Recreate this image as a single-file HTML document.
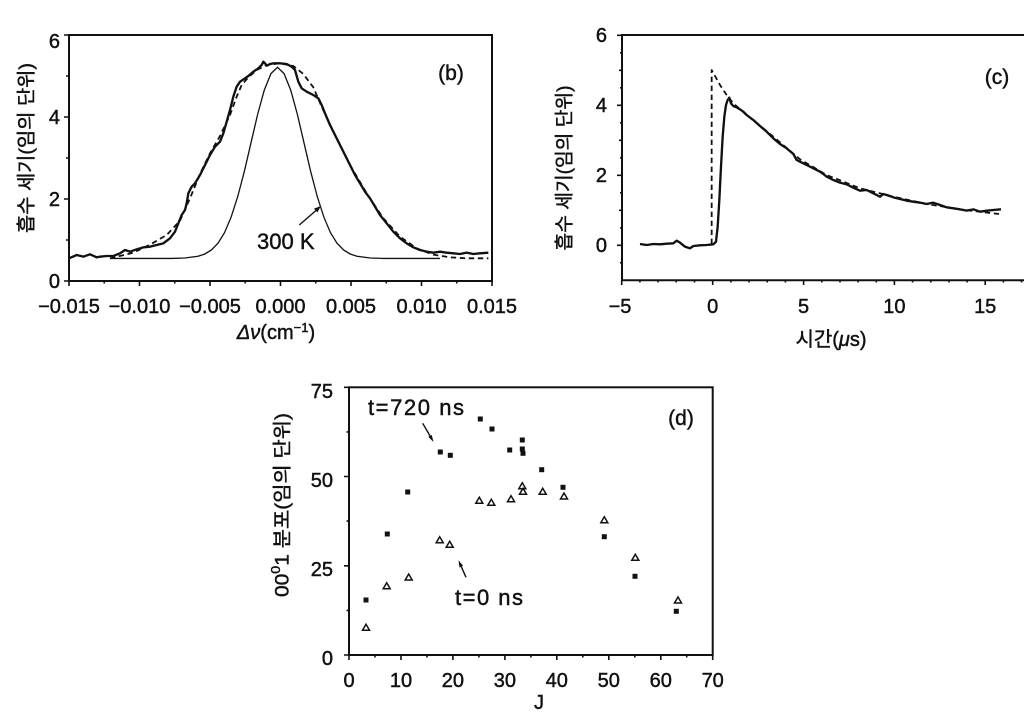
<!DOCTYPE html>
<html><head><meta charset="utf-8"><style>html,body{margin:0;padding:0;background:#fff;}svg{display:block}</style></head>
<body>
<svg width="1024" height="725" viewBox="0 0 1024 725" xmlns="http://www.w3.org/2000/svg" font-family="'Liberation Sans','Noto Sans CJK KR',sans-serif" fill="#111">
<rect width="1024" height="725" fill="#fff"/>

<!-- ============ Panel (b) ============ -->
<rect x="69" y="35" width="423" height="246" fill="none" stroke="#111" stroke-width="2"/>
<g stroke="#111" stroke-width="1.6">
  <path d="M64,35H69M64,117H69M64,199H69M64,281H69"/>
  <path d="M66,76H69M66,158H69M66,240H69"/>
  <path d="M69,281V286M139.5,281V286M210,281V286M280.5,281V286M351,281V286M421.5,281V286M492,281V286"/>
  <path d="M104.25,281V283.5M174.75,281V283.5M245.25,281V283.5M315.75,281V283.5M386.25,281V283.5M456.75,281V283.5"/>
</g>
<g stroke="#111" stroke-width="0.45">
<g font-size="20" text-anchor="end">
  <text x="60" y="48">6</text>
  <text x="60" y="124">4</text>
  <text x="60" y="206">2</text>
  <text x="60" y="288">0</text>
</g>
<g font-size="20" text-anchor="middle">
  <text x="69" y="313">−0.015</text>
  <text x="139.5" y="313">−0.010</text>
  <text x="210" y="313">−0.005</text>
  <text x="280.5" y="313">0.000</text>
  <text x="351" y="313">0.005</text>
  <text x="421.5" y="313">0.010</text>
  <text x="492" y="313">0.015</text>
</g>
<text x="276" y="339" font-size="20" text-anchor="middle"><tspan font-style="italic">Δν</tspan>(cm<tspan font-size="13" baseline-shift="super">−1</tspan>)</text>
<text transform="translate(27,148) rotate(-90)" text-anchor="middle" dominant-baseline="central" font-size="19" textLength="170" lengthAdjust="spacingAndGlyphs">흡수 세기(임의 단위)</text>
<text x="451" y="80" font-size="21" text-anchor="middle">(b)</text>
<text x="257" y="249" font-size="22">300 K</text>
</g>
<line x1="299.3" y1="225" x2="316" y2="210.5" stroke="#111" stroke-width="1.4"/>
<polygon points="321,206 317.3,212.4 314,208.6" fill="#111"/>

<!-- thin gaussian -->
<path fill="none" stroke="#111" stroke-width="1.3" d="M110,258.45 L171.5,258.45 L184.75,258 L198,256.3 L204.6,254.1 L211.25,250.1 L217.9,243.3 L224.5,232.7 L231.1,217.2 L237.75,196.5 L244.4,171.2 L251,142.8 L257.6,114.5 L264.25,90.2 L270.9,73.6 L277.5,67.3 L284.1,73.6 L290.75,90.2 L297.4,114.5 L304,142.8 L310.6,171.2 L317.25,196.5 L323.9,217.2 L330.5,232.7 L337.1,243.3 L343.75,250.1 L350.4,254.1 L357,256.3 L370.25,258 L383.5,258.45 L440,258.45"/>

<g transform="translate(100,50) scale(0.333333)" fill="none" stroke="#111" stroke-linejoin="round">
  <path stroke-width="5.4" stroke-dasharray="16,11" d="M30,625 L100,608 L150,584 L200,555 L240,512 L270,445 L300,372 L330,310 L360,258 L390,195 L410,140 L425,105 L445,82 L470,60 L500,45 L540,40 L580,48 L610,72 L640,112 L665,170 L700,245 L750,345 L800,430 L850,505 L900,560 L950,595 L1000,614 L1050,622 L1100,625 L1165,625"/>
  <path stroke-width="7" d="M-93,625 L-70,615 L-50,620 L-30,613 L-10,622 L0,620 L20,618 L40,618 L60,610 L75,600 L90,605 L110,598 L130,592 L150,590 L170,585 L190,580 L210,565 L225,545 L235,520 L245,495 L255,480 L260,460 L265,430 L275,410 L285,400 L300,375 L315,345 L330,315 L345,290 L360,275 L370,250 L380,215 L390,180 L400,140 L410,110 L420,95 L435,85 L445,78 L460,65 L475,55 L485,45 L490,35 L495,40 L500,47 L510,42 L520,40 L540,40 L560,42 L575,50 L585,60 L595,95 L605,115 L620,125 L640,135 L655,145 L665,165 L675,190 L690,225 L705,255 L720,285 L735,315 L750,345 L765,375 L780,400 L795,425 L810,445 L825,470 L840,495 L860,520 L880,545 L900,565 L920,580 L940,592 L960,600 L980,605 L1000,608 L1020,605 L1040,608 L1060,610 L1080,612 L1100,608 L1120,612 L1140,610 L1165,608"/>
</g>

<!-- ============ Panel (c) ============ -->
<g stroke="#111" stroke-width="2" fill="none">
  <path d="M622,34V281"/>
  <path d="M621,35H1024"/>
  <path d="M621,280.3H1024"/>
</g>
<g stroke="#111" stroke-width="1.6">
  <path d="M617,35.3H622M617,105.3H622M617,175.3H622M617,245.3H622"/>
  <path d="M619,70.3H622M619,140.3H622M619,210.3H622"/>
  <path d="M620,52.8H622M620,87.8H622M620,122.8H622M620,157.8H622M620,192.8H622M620,227.8H622M620,262.8H622"/>
  <path d="M621.7,280V285M712.7,280V285M803.6,280V285M894.4,280V285M985.2,280V285"/>
  <path d="M639.9,280V282.5M658,280V282.5M676.2,280V282.5M694.5,280V282.5M730.9,280V282.5M749,280V282.5M767.2,280V282.5M785.4,280V282.5M821.8,280V282.5M840,280V282.5M858.1,280V282.5M876.3,280V282.5M912.6,280V282.5M930.8,280V282.5M949,280V282.5M967.1,280V282.5M1003.4,280V282.5M1021.5,280V282.5"/>
</g>
<g stroke="#111" stroke-width="0.45">
<g font-size="20" text-anchor="end">
  <text x="607" y="42">6</text>
  <text x="607" y="112">4</text>
  <text x="607" y="182">2</text>
  <text x="607" y="252">0</text>
</g>
<g font-size="20" text-anchor="middle">
  <text x="620" y="313">−5</text>
  <text x="712.7" y="313">0</text>
  <text x="803.6" y="313">5</text>
  <text x="894.4" y="313">10</text>
  <text x="985.2" y="313">15</text>
</g>
<text x="831" y="346" font-size="20" text-anchor="middle">시간(<tspan font-style="italic">μ</tspan>s)</text>
<text transform="translate(565,168) rotate(-90)" text-anchor="middle" dominant-baseline="central" font-size="19" textLength="165" lengthAdjust="spacingAndGlyphs">흡수 세기(임의 단위)</text>
<text x="997" y="84" font-size="21" text-anchor="middle">(c)</text>
</g>

<g transform="translate(540,20) scale(0.333333)" fill="none" stroke="#111" stroke-linejoin="round">
  <path stroke-width="5.4" stroke-dasharray="16,11" d="M515,672 L515,150 L540,195 L560,225 L580,250 L620,285 L700,350 L780,418 L860,465 L960,505 L1060,530 L1160,552 L1260,568 L1385,583"/>
  <path stroke-width="7" d="M300,672 L320,675 L340,672 L360,673 L380,671 L400,670 L410,662 L420,668 L435,680 L450,685 L460,678 L480,676 L500,675 L520,673 L528,665 L533,620 L538,540 L543,440 L548,350 L553,290 L558,255 L563,240 L568,233 L573,250 L580,258 L590,262 L600,268 L610,275 L620,285 L640,300 L660,318 L680,335 L700,355 L720,372 L740,385 L760,402 L770,420 L780,425 L790,430 L800,435 L820,445 L840,455 L850,462 L860,470 L880,480 L900,488 L920,493 L940,503 L960,512 L980,510 L1000,520 L1020,530 L1030,522 L1040,525 L1060,532 L1080,537 L1100,542 L1120,545 L1140,548 L1160,552 L1180,548 L1200,555 L1220,562 L1240,565 L1260,568 L1280,572 L1300,568 L1320,575 L1340,572 L1360,570 L1383,568"/>
</g>

<!-- ============ Panel (d) ============ -->
<rect x="349" y="387.3" width="363.7" height="267.7" fill="none" stroke="#111" stroke-width="2"/>
<g stroke="#111" stroke-width="1.6">
  <path d="M344,655H349M344,565.8H349M344,476.5H349M344,387.3H349"/>
  <path d="M346.5,610.4H349M346.5,521.1H349M346.5,431.9H349"/>
  <path d="M349,655V660M401,655V660M452.9,655V660M504.9,655V660M556.8,655V660M608.8,655V660M660.8,655V660M712.7,655V660"/>
  <path d="M375,655V657.5M427,655V657.5M478.9,655V657.5M530.9,655V657.5M582.8,655V657.5M634.8,655V657.5M686.7,655V657.5"/>
</g>
<g stroke="#111" stroke-width="0.45">
<g font-size="20" text-anchor="end">
  <text x="333" y="398">75</text>
  <text x="333" y="487">50</text>
  <text x="333" y="576">25</text>
  <text x="333" y="665">0</text>
</g>
<g font-size="20" text-anchor="middle">
  <text x="349" y="687">0</text>
  <text x="401" y="687">10</text>
  <text x="452.9" y="687">20</text>
  <text x="504.9" y="687">30</text>
  <text x="556.8" y="687">40</text>
  <text x="608.8" y="687">50</text>
  <text x="660.8" y="687">60</text>
  <text x="712.7" y="687">70</text>
</g>
<text x="539" y="709" font-size="20" text-anchor="middle">J</text>
<text transform="translate(283,505) rotate(-90)" text-anchor="middle" dominant-baseline="central" font-size="19" textLength="184" lengthAdjust="spacingAndGlyphs">00<tspan font-size="13" baseline-shift="super">0</tspan>1 분포(임의 단위)</text>
<text x="681" y="425" font-size="21" text-anchor="middle">(d)</text>
<text x="368" y="415" font-size="22" textLength="96" lengthAdjust="spacing">t=720 ns</text>
<text x="455" y="605" font-size="22" textLength="68" lengthAdjust="spacing">t=0 ns</text>
</g>
<line x1="422.7" y1="423.3" x2="430" y2="435.9" stroke="#111" stroke-width="1.4"/>
<polygon points="433.5,442 431.7,434.9 428.3,436.9" fill="#111"/>
<line x1="466" y1="577.3" x2="461.3" y2="566.7" stroke="#111" stroke-width="1.4"/>
<polygon points="458.5,560.3 463.1,565.9 459.5,567.5" fill="#111"/>

<!-- squares -->
<g fill="#111">
  <rect x="363.5" y="597.5" width="5" height="5"/>
  <rect x="384.8" y="531.5" width="5" height="5"/>
  <rect x="405.2" y="489.5" width="5" height="5"/>
  <rect x="437.8" y="449.5" width="5" height="5"/>
  <rect x="447.8" y="452.8" width="5" height="5"/>
  <rect x="477.8" y="416.5" width="5" height="5"/>
  <rect x="489.5" y="426.5" width="5" height="5"/>
  <rect x="507.2" y="447.5" width="5" height="5"/>
  <rect x="519.8" y="437.5" width="5" height="5"/>
  <rect x="519.8" y="446.5" width="5" height="5"/>
  <rect x="520.5" y="450.8" width="5" height="5"/>
  <rect x="539.2" y="467.2" width="5" height="5"/>
  <rect x="560.5" y="484.8" width="5" height="5"/>
  <rect x="601.8" y="534.2" width="5" height="5"/>
  <rect x="632.5" y="573.8" width="5" height="5"/>
  <rect x="673.8" y="608.8" width="5" height="5"/>
</g>
<!-- triangles -->
<g fill="none" stroke="#111" stroke-width="1.5" stroke-linejoin="miter">
  <path d="M366,624.3 L369.5,630.3 L362.5,630.3Z"/>
  <path d="M386.7,582.7 L390.2,588.7 L383.2,588.7Z"/>
  <path d="M408.7,574 L412.2,580 L405.2,580Z"/>
  <path d="M439.7,536.7 L443.2,542.7 L436.2,542.7Z"/>
  <path d="M449.7,541.3 L453.2,547.3 L446.2,547.3Z"/>
  <path d="M479.3,497.3 L482.8,503.3 L475.8,503.3Z"/>
  <path d="M491.3,499.3 L494.8,505.3 L487.8,505.3Z"/>
  <path d="M511,495.7 L514.5,501.7 L507.5,501.7Z"/>
  <path d="M522.3,482.7 L525.8,488.7 L518.8,488.7Z"/>
  <path d="M523,488.3 L526.5,494.3 L519.5,494.3Z"/>
  <path d="M542.7,488.3 L546.2,494.3 L539.2,494.3Z"/>
  <path d="M564,493 L567.5,499 L560.5,499Z"/>
  <path d="M604.3,516.7 L607.8,522.7 L600.8,522.7Z"/>
  <path d="M635.3,554.3 L638.8,560.3 L631.8,560.3Z"/>
  <path d="M678,597 L681.5,603 L674.5,603Z"/>
</g>
</svg>
</body></html>
